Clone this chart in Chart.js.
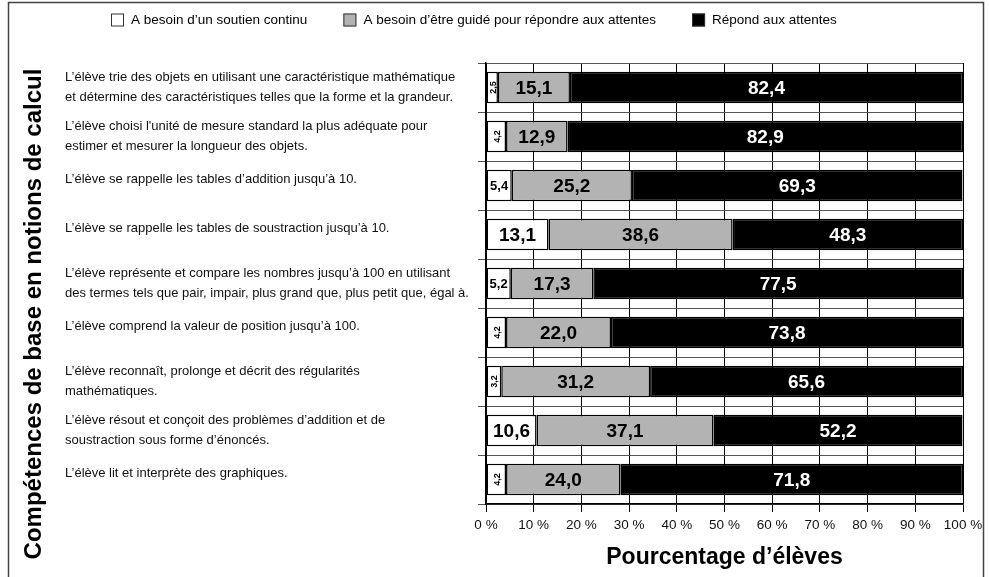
<!DOCTYPE html>
<html lang="fr">
<head>
<meta charset="utf-8">
<script src="https://cdn.jsdelivr.net/npm/chart.js@4.4.1/dist/chart.umd.min.js"></script>
<style>
  html, body { margin: 0; padding: 0; background: #fff; }
  #wrap { width: 989px; height: 577px; }
</style>
</head>
<body>
<div id="wrap"><canvas id="chart" width="989" height="577"></canvas></div>
<script>
const categories = [
  ["L’élève trie des objets en utilisant une caractéristique mathématique", "et détermine des caractéristiques telles que la forme et la grandeur."],
  ["L’élève choisi l'unité de mesure standard la plus adéquate pour", "estimer et mesurer la longueur des objets."],
  ["L’élève se rappelle les tables d’addition jusqu’à 10."],
  ["L’élève se rappelle les tables de soustraction jusqu’à 10."],
  ["L’élève représente et compare les nombres jusqu’à 100 en utilisant", "des termes tels que pair, impair, plus grand que, plus petit que, égal à."],
  ["L’élève comprend la valeur de position jusqu’à 100."],
  ["L’élève reconnaît, prolonge et décrit des régularités", "mathématiques."],
  ["L’élève résout et conçoit des problèmes d’addition et de", "soustraction sous forme d’énoncés."],
  ["L’élève lit et interprète des graphiques."]
];

const seriesNames = [
  "A besoin d’un soutien continu",
  "A besoin d’être guidé pour répondre aux attentes",
  "Répond aux attentes"
];

const soutienContinu = [2.5, 4.2, 5.4, 13.1, 5.2, 4.2, 3.2, 10.6, 4.2];
const besoinGuide = [15.1, 12.9, 25.2, 38.6, 17.3, 22.0, 31.2, 37.1, 24.0];
const repondAttentes = [82.4, 82.9, 69.3, 48.3, 77.5, 73.8, 65.6, 52.2, 71.8];

const xTicks = [0, 10, 20, 30, 40, 50, 60, 70, 80, 90, 100];

const FONT = '"Liberation Sans", Arial, sans-serif';
Chart.defaults.font.family = FONT;
Chart.defaults.color = '#111';

// etiquettes des valeurs dans les barres
const valueLabels = {
  id: 'valueLabels',
  afterDatasetsDraw(chart) {
    const ctx = chart.ctx;
    chart.data.datasets.forEach((ds, di) => {
      chart.getDatasetMeta(di).data.forEach((bar, i) => {
        const txt = ds.data[i].toFixed(1).replace('.', ',');
        const w = Math.abs(bar.x - bar.base);
        const cx = (bar.x + bar.base) / 2;
        ctx.save();
        ctx.fillStyle = ds.labelColor;
        ctx.textAlign = 'center';
        ctx.textBaseline = 'middle';
        if (w < 22) {
          ctx.translate(cx + 1, bar.y);
          ctx.rotate(-Math.PI / 2);
          ctx.font = 'bold 9px ' + FONT;
          ctx.fillText(txt, 0, 0);
        } else if (w < 32) {
          ctx.font = 'bold 13px ' + FONT;
          ctx.fillText(txt, cx, bar.y + 1);
        } else {
          ctx.font = 'bold 19px ' + FONT;
          ctx.fillText(txt, cx, bar.y + 1);
        }
        ctx.restore();
      });
    });
  }
};

// cadre, legende, libelles des lignes, titre vertical
const decor = {
  id: 'decor',
  afterDraw(chart) {
    const ctx = chart.ctx;
    const yScale = chart.scales.y;
    ctx.save();

    // cadre exterieur
    ctx.strokeStyle = '#444';
    ctx.lineWidth = 1.5;
    ctx.beginPath();
    ctx.moveTo(8.5, 577);
    ctx.lineTo(8.5, 2.5);
    ctx.lineTo(983.5, 2.5);
    ctx.lineTo(983.5, 577);
    ctx.stroke();

    // legende
    ctx.font = '13.5px ' + FONT;
    ctx.textAlign = 'left';
    ctx.textBaseline = 'middle';
    let x = 111;
    const ly = 20;
    chart.data.datasets.forEach(ds => {
      ctx.fillStyle = ds.backgroundColor;
      ctx.fillRect(x, ly - 6.5, 13, 13);
      ctx.strokeStyle = '#333';
      ctx.lineWidth = 1;
      ctx.strokeRect(x + 0.5, ly - 6, 12, 12);
      ctx.fillStyle = '#000';
      ctx.fillText(ds.label, x + 20, ly);
      x += 20 + ctx.measureText(ds.label).width + 36;
    });

    // libelles des categories
    ctx.font = '13px ' + FONT;
    ctx.fillStyle = '#111';
    chart.data.labels.forEach((lines, i) => {
      const cy = yScale.getPixelForValue(i);
      let y = cy - (lines.length === 2 ? 10 : 6);
      lines.forEach(line => {
        ctx.fillText(line, 65, y);
        y += 20;
      });
    });

    // titre de l'axe vertical
    ctx.translate(34, 314);
    ctx.rotate(-Math.PI / 2);
    ctx.textAlign = 'center';
    ctx.font = 'bold 24px ' + FONT;
    ctx.fillStyle = '#000';
    ctx.fillText('Compétences de base en notions de calcul', 0, 0);
    ctx.restore();
  }
};

new Chart(document.getElementById('chart'), {
  type: 'bar',
  data: {
    labels: categories,
    datasets: [
      { label: seriesNames[0], data: soutienContinu, backgroundColor: '#ffffff', labelColor: '#000' },
      { label: seriesNames[1], data: besoinGuide, backgroundColor: '#b3b3b3', labelColor: '#000' },
      { label: seriesNames[2], data: repondAttentes, backgroundColor: '#000000', labelColor: '#fff' }
    ].map(d => Object.assign(d, {
      borderColor: '#000',
      borderWidth: 1.5,
      borderSkipped: false,
      barPercentage: 0.64,
      categoryPercentage: 1
    }))
  },
  options: {
    indexAxis: 'y',
    responsive: false,
    animation: false,
    layout: { padding: { top: 63, right: 26, left: 0, bottom: 0 } },
    plugins: {
      legend: { display: false },
      tooltip: { enabled: false }
    },
    scales: {
      x: {
        stacked: true,
        min: 0,
        max: 100,
        afterBuildTicks: s => { s.ticks = xTicks.map(v => ({ value: v })); },
        afterFit: s => { s.height = 73; },
        ticks: {
          callback: v => v + ' %',
          font: { size: 13.5 },
          color: '#111',
          padding: 5,
          maxRotation: 0
        },
        grid: { color: '#000', lineWidth: 1, tickLength: 8 },
        border: { color: '#000', width: 1.5 },
        title: {
          display: true,
          text: 'Pourcentage d’élèves',
          font: { size: 23, weight: 'bold' },
          color: '#000',
          padding: { top: 8, bottom: 6 }
        }
      },
      y: {
        stacked: true,
        ticks: { display: false },
        grid: { offset: true, color: '#555', lineWidth: 1, tickLength: 8 },
        border: { color: '#000', width: 1.5 },
        afterFit: s => { s.width = 486; }
      }
    }
  },
  plugins: [valueLabels, decor]
});
</script>
</body>
</html>
